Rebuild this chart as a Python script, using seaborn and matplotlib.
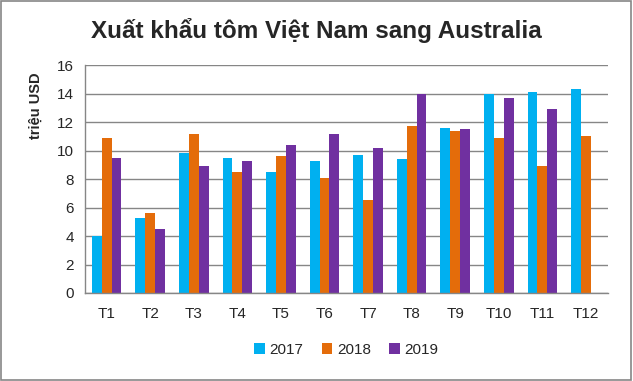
import pandas as pd
import seaborn as sns
import matplotlib.pyplot as plt
from matplotlib.patches import Rectangle

# ==========================================
# Data
# ==========================================
MONTHS = ['T1', 'T2', 'T3', 'T4', 'T5', 'T6', 'T7', 'T8', 'T9', 'T10', 'T11', 'T12']
Y2017 = [4.0, 5.3, 9.8, 9.5, 8.5, 9.3, 9.7, 9.4, 11.6, 14.0, 14.1, 14.3]
Y2018 = [10.9, 5.6, 11.2, 8.5, 9.6, 8.1, 6.5, 11.7, 11.4, 10.9, 8.9, 11.0]
Y2019 = [9.5, 4.5, 8.9, 9.3, 10.4, 11.2, 10.2, 14.0, 11.5, 13.7, 12.9, None]

YEARS = ['2017', '2018', '2019']
COLORS = {'2017': '#00B0F0', '2018': '#E46C0A', '2019': '#7030A0'}

rows = []
for year, vals in zip(YEARS, [Y2017, Y2018, Y2019]):
    for m, v in zip(MONTHS, vals):
        rows.append({'Month': m, 'Year': year, 'Value': v})
df = pd.DataFrame(rows)

# ==========================================
# Plot
# ==========================================
sns.set_style('white')
plt.rcParams['font.family'] = ['Liberation Sans', 'DejaVu Sans']

fig = plt.figure(figsize=(6.33, 3.81), dpi=100)
ax = fig.add_axes([0.134, 0.231, 0.826, 0.598])

sns.barplot(data=df, x='Month', y='Value', hue='Year', order=MONTHS,
            hue_order=YEARS, palette=COLORS, width=0.68, saturation=1,
            linewidth=0, ax=ax, legend=True)

ax.set_ylim(0, 16)
ax.set_yticks(range(0, 17, 2))
ax.set_xlim(-0.5, len(MONTHS) - 0.5)
ax.yaxis.grid(True, color='#868686', linewidth=1)
ax.set_axisbelow(True)

for s in ['top', 'right']:
    ax.spines[s].set_visible(False)
for s in ['bottom', 'left']:
    ax.spines[s].set_color('#868686')
    ax.spines[s].set_linewidth(1)

ax.set_xticks([i - 0.5 for i in range(len(MONTHS) + 1)], minor=True)
ax.tick_params(axis='x', which='minor', length=5, color='#868686', width=1, direction='out')
ax.tick_params(axis='x', which='major', length=0, pad=10, labelsize=11)
ax.tick_params(axis='y', length=5, color='#868686', width=1, direction='out',
               pad=3, labelsize=11)

ax.set_xlabel('')
ax.set_ylabel('triệu USD', fontsize=10.5, fontweight='bold', va='center')
ax.yaxis.set_label_coords(-0.094, 0.82)

fig.text(0.5, 0.92, 'Xuất khẩu tôm Việt Nam sang Australia',
         ha='center', va='center', fontsize=17.5, fontweight='bold')

leg = ax.legend(loc='upper center', bbox_to_anchor=(0.5, -0.16), ncol=3,
                frameon=False, fontsize=11, handlelength=0.7, handleheight=0.7,
                columnspacing=1.2, handletextpad=0.3)

fig.add_artist(Rectangle((0.002, 0.003), 0.995, 0.994, transform=fig.transFigure,
                         fill=False, edgecolor='#868686', linewidth=1.2))

plt.savefig('out.png', dpi=100)
plt.close()
